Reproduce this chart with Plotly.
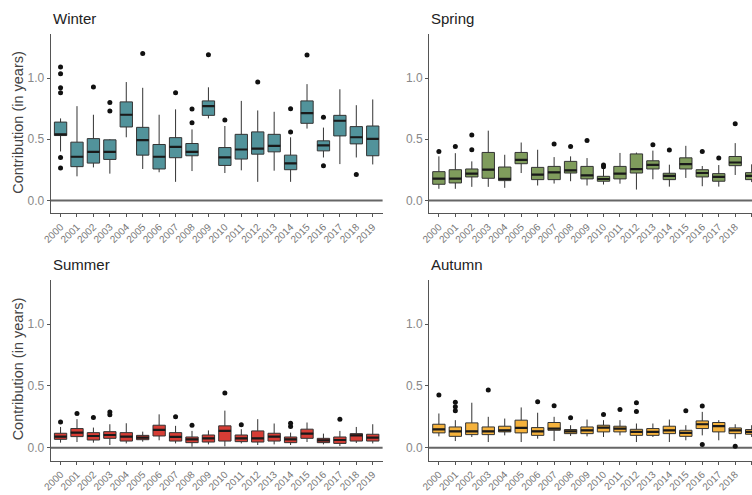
import plotly.graph_objects as go

years = [str(y) for y in range(2000, 2020)]

# Winter
W_q1 = [0.53,0.276,0.305,0.335,0.60,0.37,0.257,0.349,0.365,0.695,0.286,0.338,0.378,0.397,0.251,0.63,0.405,0.527,0.462,0.365]
W_med = [0.54,0.357,0.397,0.397,0.70,0.492,0.357,0.438,0.397,0.77,0.351,0.416,0.424,0.446,0.303,0.714,0.449,0.651,0.516,0.503]
W_q3 = [0.64,0.476,0.505,0.495,0.805,0.597,0.457,0.513,0.465,0.813,0.432,0.54,0.56,0.54,0.37,0.813,0.487,0.695,0.603,0.608]
W_lo = [0.40,0.197,0.27,0.219,0.516,0.257,0.23,0.152,0.24,0.67,0.224,0.246,0.152,0.243,0.152,0.587,0.351,0.297,0.351,0.294]
W_hi = [0.67,0.77,0.70,0.50,0.967,0.92,0.70,0.744,0.58,0.924,0.608,0.813,0.735,0.724,0.516,0.95,0.595,0.908,0.778,0.825]
W_out_year = ["2000","2000","2000","2000","2000","2000","2002","2003","2003","2005","2007","2008","2008","2009","2010","2012","2014","2014","2015","2016","2016","2018"]
W_out_val = [1.09,1.035,0.92,0.88,0.35,0.265,0.927,0.80,0.73,1.20,0.88,0.746,0.635,1.19,0.657,0.967,0.749,0.56,1.187,0.679,0.284,0.211]

# Spring
S_q1 = [0.132,0.143,0.192,0.181,0.162,0.30,0.170,0.17,0.224,0.176,0.157,0.176,0.224,0.257,0.17,0.257,0.192,0.157,0.284,0.17]
S_med = [0.178,0.178,0.219,0.251,0.176,0.332,0.211,0.23,0.246,0.205,0.175,0.219,0.255,0.29,0.2,0.296,0.224,0.192,0.31,0.2]
S_q3 = [0.235,0.251,0.257,0.392,0.273,0.392,0.27,0.278,0.319,0.278,0.197,0.278,0.38,0.324,0.222,0.348,0.251,0.219,0.359,0.227]
S_lo = [0.095,0.095,0.111,0.111,0.103,0.224,0.122,0.138,0.157,0.122,0.13,0.137,0.089,0.173,0.113,0.184,0.116,0.113,0.208,0.15]
S_hi = [0.36,0.386,0.319,0.57,0.373,0.473,0.414,0.354,0.36,0.346,0.265,0.388,0.391,0.407,0.292,0.446,0.281,0.289,0.468,0.295]
S_out_year = ["2000","2001","2002","2002","2007","2008","2009","2010","2010","2013","2014","2016","2017","2018"]
S_out_val = [0.40,0.44,0.535,0.414,0.46,0.44,0.49,0.29,0.275,0.455,0.413,0.40,0.346,0.627]

# Summer
M_q1 = [0.068,0.09,0.0625,0.076,0.054,0.065,0.095,0.054,0.041,0.046,0.054,0.049,0.046,0.054,0.041,0.076,0.041,0.035,0.054,0.054]
M_med = [0.09,0.122,0.095,0.103,0.09,0.082,0.144,0.087,0.068,0.076,0.136,0.076,0.076,0.09,0.068,0.114,0.06,0.0625,0.10,0.082]
M_q3 = [0.117,0.155,0.122,0.13,0.122,0.10,0.182,0.122,0.087,0.103,0.177,0.103,0.136,0.117,0.087,0.15,0.076,0.087,0.114,0.109]
M_lo = [0.041,0.046,0.041,0.022,0.035,0.049,0.06,0.035,0.008,0.027,0.011,0.035,0.022,0.027,0.022,0.046,0.027,0.014,0.038,0.035]
M_hi = [0.168,0.231,0.163,0.19,0.198,0.13,0.27,0.177,0.136,0.14,0.30,0.15,0.231,0.196,0.122,0.204,0.114,0.136,0.168,0.19]
M_out_year = ["2000","2001","2002","2003","2003","2007","2008","2010","2011","2014","2014","2017"]
M_out_val = [0.209,0.277,0.245,0.29,0.266,0.25,0.182,0.443,0.185,0.198,0.171,0.231]

# Autumn
A_q1 = [0.12,0.092,0.106,0.106,0.128,0.12,0.10,0.141,0.114,0.114,0.128,0.128,0.10,0.10,0.114,0.092,0.155,0.128,0.114,0.109]
A_med = [0.149,0.133,0.133,0.133,0.141,0.16,0.133,0.155,0.133,0.141,0.163,0.155,0.128,0.128,0.141,0.12,0.19,0.174,0.141,0.128]
A_q3 = [0.19,0.168,0.201,0.168,0.174,0.223,0.163,0.204,0.147,0.168,0.182,0.174,0.149,0.155,0.174,0.141,0.217,0.204,0.16,0.147]
A_lo = [0.092,0.054,0.087,0.046,0.10,0.046,0.073,0.054,0.095,0.092,0.087,0.10,0.046,0.087,0.046,0.06,0.10,0.06,0.073,0.087]
A_hi = [0.277,0.223,0.364,0.25,0.236,0.326,0.283,0.25,0.182,0.228,0.223,0.223,0.196,0.196,0.228,0.182,0.29,0.223,0.19,0.182]
A_out_year = ["2000","2001","2001","2001","2003","2006","2007","2008","2010","2011","2012","2012","2015","2016","2016","2018"]
A_out_val = [0.427,0.367,0.332,0.30,0.467,0.372,0.34,0.242,0.269,0.31,0.364,0.293,0.30,0.337,0.027,0.011]

seasons = ["Winter", "Spring", "Summer", "Autumn"]
colors = ["#52939b", "#7f9c5c", "#d63d35", "#f5b23c"]
stats = [
    (W_q1, W_med, W_q3, W_lo, W_hi, W_out_year, W_out_val),
    (S_q1, S_med, S_q3, S_lo, S_hi, S_out_year, S_out_val),
    (M_q1, M_med, M_q3, M_lo, M_hi, M_out_year, M_out_val),
    (A_q1, A_med, A_q3, A_lo, A_hi, A_out_year, A_out_val),
]

W, H = 752, 495
FONT = "Liberation Sans, Arial, sans-serif"
BOXW = 0.75
pos = list(range(len(years)))
ypos = {y: i for i, y in enumerate(years)}

# panel pixel geometry (left, right, top, bottom)
panels = [
    (50.7, 382.6, 34.3, 213.3),
    (429.0, 752.0, 34.3, 213.3),
    (50.7, 382.6, 280.0, 460.7),
    (429.0, 752.0, 280.0, 460.7),
]
xranges = [[-0.6, 19.6], [-0.6, 19.02], [-0.6, 19.6], [-0.6, 19.02]]

fig = go.Figure()
layout = dict(
    width=W, height=H, margin=dict(l=0, r=0, t=0, b=0, autoexpand=False),
    paper_bgcolor="white", plot_bgcolor="white", showlegend=False,
    font=dict(family=FONT), annotations=[], shapes=[],
)

for k, (season, col, st) in enumerate(zip(seasons, colors, stats)):
    q1, med, q3, lo, hi, oy, ov = st
    n = "" if k == 0 else str(k + 1)
    xa, ya = "x" + n, "y" + n
    fig.add_trace(go.Box(
        x=pos, q1=q1, median=med, q3=q3, lowerfence=lo, upperfence=hi,
        width=BOXW, fillcolor=col, line=dict(color="#333333", width=1),
        whiskerwidth=0, boxpoints=False, xaxis=xa, yaxis=ya, hoverinfo="skip",
    ))
    # thicker median segments (derived from data)
    mx, my = [], []
    for i, m in enumerate(med):
        mx += [i - BOXW / 2, i + BOXW / 2, None]
        my += [m, m, None]
    fig.add_trace(go.Scatter(x=mx, y=my, mode="lines", line=dict(color="#1a1a1a", width=2.2),
                             xaxis=xa, yaxis=ya, hoverinfo="skip"))
    fig.add_trace(go.Scatter(x=[ypos[y] for y in oy], y=ov, mode="markers",
                             marker=dict(color="#111111", size=5), xaxis=xa, yaxis=ya, hoverinfo="skip"))

    l, r, t, b = panels[k]
    axcommon = dict(showline=True, linecolor="#555555", linewidth=1, ticks="outside",
                    ticklen=3, tickcolor="#555555", showgrid=False, zeroline=False,
                    automargin=False)
    layout["xaxis" + n] = dict(domain=[l / W, r / W], range=xranges[k], anchor=ya,
                               tickvals=pos, ticktext=years, tickangle=-45,
                               tickfont=dict(size=10, color="#777777", family=FONT), **axcommon)
    layout["yaxis" + n] = dict(domain=[1 - b / H, 1 - t / H], range=[-0.105, 1.357], anchor=xa,
                               tickvals=[0, 0.5, 1.0], ticktext=["0.0", "0.5", "1.0"],
                               tickfont=dict(size=12, color="#888888", family=FONT), **axcommon)
    layout["shapes"].append(dict(type="line", xref=xa + " domain", x0=0, x1=1, yref=ya, y0=0, y1=0,
                                 line=dict(color="#666666", width=2), layer="below"))
    layout["annotations"].append(dict(text=season, xref="paper", yref="paper", x=l / W, y=1 - (t - 16) / H,
                                      xanchor="left", yanchor="middle", showarrow=False,
                                      font=dict(size=15, color="#222222", family=FONT)))
    if k in (0, 2):
        layout["annotations"].append(dict(text="Contribution (in years)", xref="paper", yref="paper",
                                          x=18 / W, y=1 - ((t + b) / 2 - 1) / H, textangle=-90,
                                          xanchor="center", yanchor="middle", showarrow=False,
                                          font=dict(size=14.5, color="#444444", family=FONT)))

fig.update_layout(**layout)
fig.write_html("out.html", config={"displayModeBar": False},
               post_script="document.body.style.margin='0';document.body.style.overflow='hidden';")
